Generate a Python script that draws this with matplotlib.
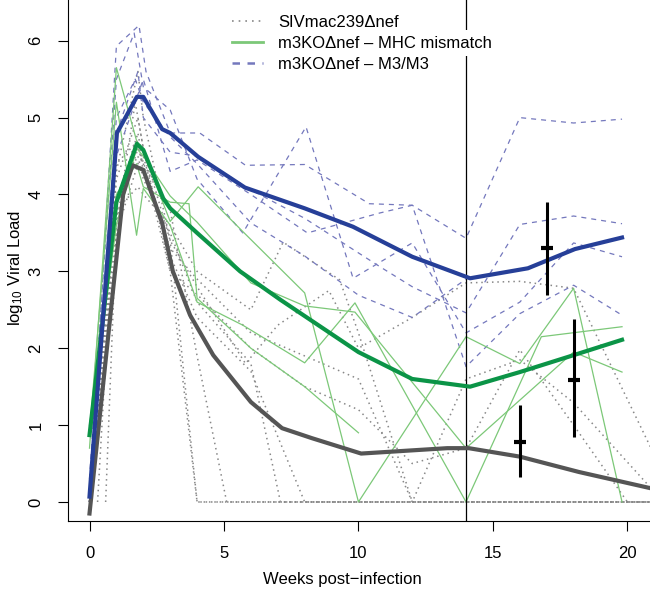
import matplotlib
matplotlib.use("Agg")
import matplotlib.pyplot as plt

plt.rcParams['font.family'] = ['Liberation Sans', 'DejaVu Sans']
plt.rcParams['mathtext.default'] = 'regular'

# ---------------- data ----------------
# SIVmac239dnef individual animals (gray dotted)
siv_x = [
    [0.3, 1, 1.8, 2, 3, 4, 20.85],
    [0.6, 1, 1.7, 2, 3, 4, 20.85],
    [0, 1, 1.8, 2, 3, 4, 5.1, 20.85],
    [0, 1, 1.8, 2, 3, 4, 6, 7.1, 20.85],
    [0, 1, 1.8, 2, 3, 4, 6, 8, 20.85],
    [0, 1, 1.8, 2, 3, 4, 6, 7.2, 9.3, 10, 12, 20.85],
    [0, 1, 1.8, 2, 3, 4, 5.8, 7, 8.9, 10, 12, 14, 16, 18, 20.85],
    [0, 1, 1.8, 2, 3, 4, 6, 8, 10, 12, 14, 16, 18, 20.85],
    [0, 1, 1.8, 2, 3, 4, 6, 8, 10, 12, 14, 16, 18, 20, 20.85],
]
siv_y = [
    [0, 4.3, 5.6, 5.0, 3.4, 0, 0],
    [0, 3.6, 5.2, 4.6, 3.0, 0, 0],
    [0, 3.9, 4.8, 4.4, 3.8, 1.9, 0, 0],
    [0, 4.0, 4.5, 4.2, 3.5, 2.6, 1.8, 0, 0],
    [0, 3.5, 4.4, 4.5, 3.2, 2.4, 1.7, 0, 0],
    [0, 3.8, 4.1, 4.0, 3.6, 3.0, 2.5, 3.38, 2.89, 2.2, 0, 0],
    [0, 4.2, 5.0, 4.6, 3.4, 2.8, 1.8, 2.3, 2.75, 2.0, 2.4, 2.85, 2.87, 2.78, 0.72],
    [0, 4.4, 4.7, 4.3, 3.3, 2.9, 2.2, 1.9, 1.6, 0, 1.6, 1.85, 1.29, 0.19],
    [0, 3.7, 4.6, 4.4, 3.0, 2.7, 2.0, 1.5, 1.2, 0.5, 0.7, 1.98, 1.0, 0, 0],
]

# m3KOdnef - MHC mismatch individual animals (green solid)
mhc_x = [
    [0, 1, 1.75, 2, 3, 4, 5.7, 8, 9.87, 14, 16.8, 19.8],
    [0, 1, 1.75, 2, 3, 4.04, 5.78, 8, 10, 14, 16, 18, 19.8],
    [0, 1, 1.75, 2, 3, 4, 6, 8, 9.87, 14, 18, 19.8],
    [0, 1, 1.75, 2, 3, 3.7, 4, 6, 8, 10],
]
mhc_y = [
    [0.9, 5.2, 3.47, 4.08, 3.6, 2.6, 2.3, 1.81, 2.59, 0, 2.15, 2.28],
    [0.7, 5.65, 4.7, 4.55, 3.65, 4.1, 3.49, 2.72, 0, 2.15, 1.8, 2.78, 0],
    [1.0, 3.6, 4.6, 4.5, 3.98, 3.64, 2.85, 2.55, 2.47, 0.7, 1.95, 1.69],
    [0.9, 4.0, 4.4, 4.1, 3.9, 3.88, 2.65, 2.0, 1.5, 0.9],
]

# m3KOdnef - M3/M3 individual animals (blue dashed)
m3_x = [
    [0, 1, 1.84, 2.1, 3, 4.1, 5.8, 8, 10.4, 12, 14, 16, 18, 19.8],
    [0, 1, 1.66, 2, 3, 4, 5.7, 8.05, 9.8, 12, 14, 16, 18, 19.8],
    [0, 1, 1.8, 2, 3, 4, 6, 8, 10.8, 12, 14, 16, 18, 19.8],
    [0, 1, 1.8, 2, 3, 4, 6, 8.1, 10.8, 12, 14, 16, 18, 19.8],
    [0, 1, 1.7, 2, 3, 4, 6, 8, 10, 12, 14],
]
m3_y = [
    [0.0, 5.93, 6.2, 5.6, 4.8, 4.8, 4.38, 4.39, 3.88, 3.86, 3.43, 5.0, 4.93, 4.98],
    [0.3, 5.5, 6.1, 5.4, 5.1, 4.2, 3.5, 4.88, 2.91, 3.37, 2.2, 2.6, 3.37, 3.19],
    [0.0, 4.8, 5.6, 5.0, 4.55, 4.5, 4.06, 3.69, 3.06, 2.8, 2.46, 3.61, 3.72, 3.62],
    [0.0, 4.5, 5.3, 5.5, 4.3, 4.45, 4.0, 3.5, 3.76, 3.86, 1.76, 2.45, 2.82, 2.43],
    [0.1, 5.0, 5.5, 5.2, 4.75, 4.4, 3.63, 3.2, 2.69, 2.4, 2.9],
]

# group means (thick lines)
siv_mean_x = [0, 1.25, 1.6, 2.0, 2.7, 3.1, 3.74, 4.6, 6.0, 7.16, 8.27, 10.1, 13.3, 14.1, 16.0, 18.2, 20.85]
siv_mean_y = [-0.15, 4.0, 4.38, 4.32, 3.63, 3.0, 2.43, 1.91, 1.3, 0.96, 0.83, 0.63, 0.70, 0.70, 0.59, 0.39, 0.18]
mhc_mean_x = [0, 1.0, 1.76, 2.0, 2.74, 3.0, 4.0, 5.6, 7.1, 10.0, 12.0, 14.15, 16.0, 18.0, 19.8]
mhc_mean_y = [0.87, 3.9, 4.66, 4.58, 3.95, 3.82, 3.5, 3.0, 2.63, 1.95, 1.6, 1.5, 1.69, 1.91, 2.11]
m3_mean_x = [0, 1.02, 1.76, 2.0, 2.7, 3.0, 4.04, 5.78, 8.0, 9.8, 12.0, 14.15, 16.3, 18.05, 19.8]
m3_mean_y = [0.07, 4.8, 5.27, 5.27, 4.85, 4.8, 4.49, 4.09, 3.82, 3.58, 3.19, 2.91, 3.04, 3.29, 3.44]

# error bars
err_x = [16, 17, 18]
err_mean = [0.78, 3.3, 1.59]
err_lo = [0.33, 2.69, 0.85]
err_hi = [1.26, 3.9, 2.38]

vline_x = 14
legend_labels = ["SIVmac239\u0394nef", "m3KO\u0394nef \u2013 MHC mismatch", "m3KO\u0394nef \u2013 M3/M3"]
xticks = [0, 5, 10, 15, 20]
yticks = [0, 1, 2, 3, 4, 5, 6]

# ---------------- colours ----------------
c_gray_thin = "#888888"
c_gray = "#555555"
c_green_thin = "#7cc878"
c_green = "#0b9447"
c_blue_thin = "#7478bd"
c_blue = "#263f98"

FS = 12

fig = plt.figure(figsize=(6.5, 5.9), dpi=100)
ax = fig.add_axes([0.1046, 0.117, 0.8954, 0.883])

for xs, ys in zip(siv_x, siv_y):
    ax.plot(xs, ys, color=c_gray_thin, lw=1.1, linestyle=(0, (1, 2.5)), zorder=2, clip_on=False)
for xs, ys in zip(m3_x, m3_y):
    ax.plot(xs, ys, color=c_blue_thin, lw=0.9, linestyle=(0, (4, 4)), zorder=2)
for xs, ys in zip(mhc_x, mhc_y):
    ax.plot(xs, ys, color=c_green_thin, lw=0.9, zorder=2)

ax.axvline(vline_x, color="black", lw=0.9, zorder=3)

ax.plot(siv_mean_x, siv_mean_y, color=c_gray, lw=3.0, zorder=4, solid_joinstyle='round')
ax.plot(mhc_mean_x, mhc_mean_y, color=c_green, lw=3.0, zorder=4, solid_joinstyle='round')
ax.plot(m3_mean_x, m3_mean_y, color=c_blue, lw=3.0, zorder=4, solid_joinstyle='round')

for x, m, lo, hi in zip(err_x, err_mean, err_lo, err_hi):
    ax.plot([x, x], [lo, hi], color="black", lw=2.2, zorder=5, solid_capstyle='butt')
    ax.plot([x], [m], marker="_", ms=8, mew=3, color="black", zorder=5)

# legend
h1, = ax.plot([], [], color=c_gray_thin, lw=1.2, linestyle=(0, (1, 3)))
h2, = ax.plot([], [], color=c_green_thin, lw=2.0)
h3, = ax.plot([], [], color=c_blue_thin, lw=1.8, linestyle=(0, (3, 3)))
leg = ax.legend([h1, h2, h3], legend_labels, loc="upper left", bbox_to_anchor=(0.2818, 0.972),
                frameon=False, fontsize=FS, handlelength=1.86, handletextpad=0.9,
                labelspacing=0.38, borderaxespad=0.0, borderpad=0.0)
leg.set_zorder(10)
leg.get_texts()[1].set_bbox(dict(facecolor="white", edgecolor="none", pad=4))

ax.set_xlim(-0.8, 20.84)
ax.set_ylim(-0.247, 6.53)
ax.spines["top"].set_visible(False)
ax.spines["right"].set_visible(False)
ax.set_xticks(xticks)
ax.set_yticks(yticks)
ax.set_yticklabels([str(v) for v in yticks], rotation=90, va="center")
ax.tick_params(axis="both", direction="out", length=7.2, width=0.8, labelsize=FS, pad=10.5)

ax.set_xlabel("Weeks post\u2212infection", fontsize=FS, va="center")
ax.xaxis.set_label_coords(0.471, -0.113)
ax.set_ylabel("log$_{10}$ Viral Load", fontsize=FS, va="center")
ax.yaxis.set_label_coords(-0.091, 0.486)

fig.savefig("out.png", dpi=100)
